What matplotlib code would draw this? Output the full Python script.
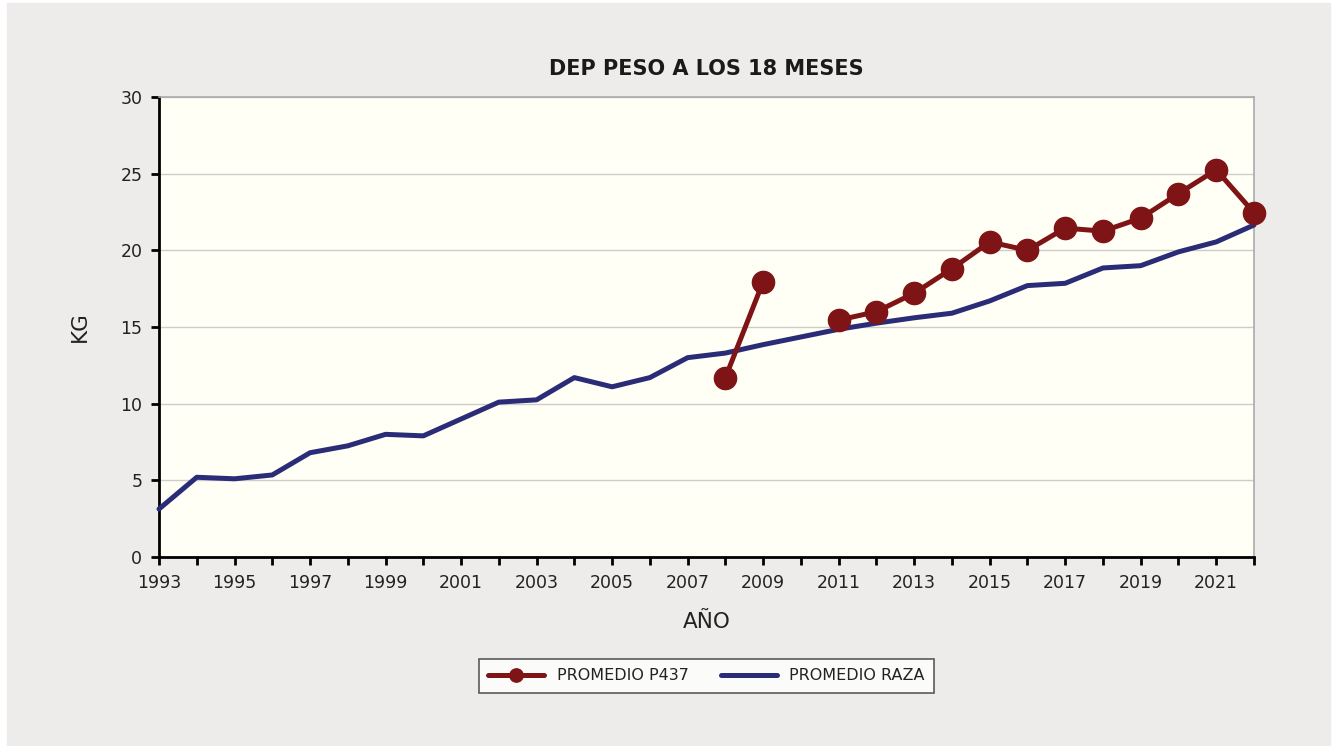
import numpy as np
import matplotlib.pyplot as plt
from matplotlib.patches import Rectangle

plt.rcParams['font.family'] = ['DejaVu Sans']

years = list(range(1993, 2023))
raza = [3.13, 5.2, 5.1, 5.35, 6.8, 7.25, 8.0, 7.9, 9.0, 10.1,
        10.25, 11.7, 11.1, 11.7, 13.0, 13.3, 13.85, 14.35, 14.85, 15.25,
        15.6, 15.9, 16.7, 17.7, 17.85, 18.85, 19.0, 19.9, 20.55, 21.65]
p437_years = list(range(2008, 2023))
p437 = [11.7, 17.95, np.nan, 15.45, 16.0, 17.2, 18.8, 20.55, 20.0,
        21.45, 21.25, 22.1, 23.7, 25.25, 22.45]

red = '#7f1416'
blue = '#2a2c78'

fig = plt.figure(figsize=(13.36, 7.46), dpi=100, facecolor='white')
fig.patches.append(Rectangle((7 / 1336, 0), 1323 / 1336, 743 / 746,
                             transform=fig.transFigure, color='#eeeceb', zorder=-1))
ax = fig.add_axes([159 / 1336, 1 - 557 / 746, 1095 / 1336, 460 / 746])
ax.set_facecolor('#fffff5')

ax.plot(p437_years, p437, color=red, lw=3.6, marker='o', ms=16,
        label='PROMEDIO P437', zorder=4, clip_on=False, solid_capstyle='round')
ax.plot(years, raza, color=blue, lw=3.6, label='PROMEDIO RAZA', zorder=3,
        clip_on=False, solid_capstyle='round')

ax.set_xlim(1993, 2022)
ax.set_ylim(0, 30)
ax.set_xticks(range(1993, 2022, 2))
ax.set_xticks(range(1993, 2023), minor=True)
ax.set_yticks(range(0, 31, 5))
ax.grid(axis='y', color='#cccccc', lw=1)
ax.set_axisbelow(True)

for s in ['top', 'right']:
    ax.spines[s].set_color('#aaaaaa')
    ax.spines[s].set_linewidth(1.2)
for s in ['left', 'bottom']:
    ax.spines[s].set_color('black')
    ax.spines[s].set_linewidth(2)
ax.tick_params(which='both', direction='out', length=6, width=2, color='black',
               labelsize=12.5, labelcolor='#222222', pad=6)

ax.set_title('DEP PESO A LOS 18 MESES', fontsize=15, fontweight='heavy', color='#1a1a1a', pad=16)
ax.set_xlabel('AÑO', fontsize=15.5, color='#222222', labelpad=15)
ax.set_ylabel('KG', fontsize=15.5, color='#222222', labelpad=22)

leg = ax.legend(loc='center', bbox_to_anchor=(0.5, -0.258), ncol=2, frameon=True,
                fancybox=False, edgecolor='#333333', fontsize=11.5, markerscale=0.6,
                handlelength=3.5, columnspacing=2.0, borderpad=0.6)
leg.get_frame().set_linewidth(1.2)
for t in leg.get_texts():
    t.set_color('#222222')

fig.savefig('out.png', dpi=100, facecolor=fig.get_facecolor())
